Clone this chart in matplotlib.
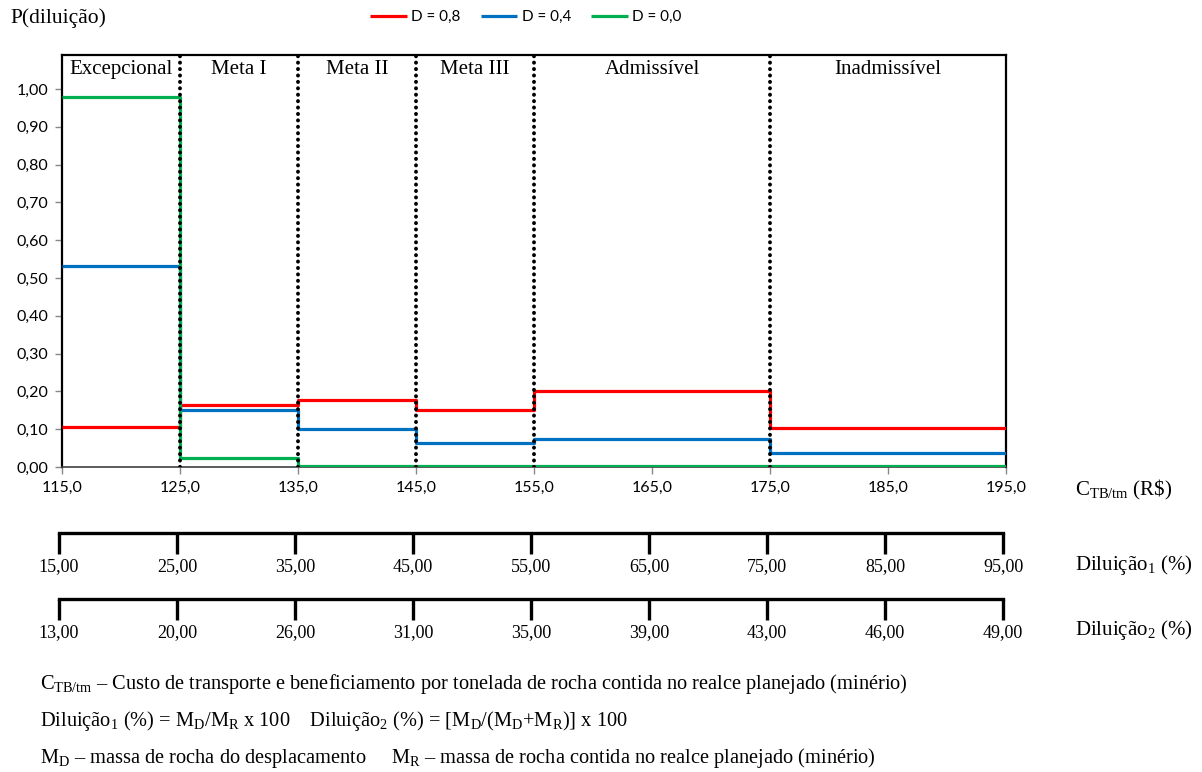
import matplotlib
matplotlib.use("Agg")
import matplotlib.pyplot as plt
import numpy as np

# ---- data ----
edges = [115, 125, 135, 145, 155, 175, 195]
d08 = [0.107, 0.164, 0.177, 0.151, 0.201, 0.103]
d04 = [0.532, 0.151, 0.100, 0.063, 0.074, 0.037]
d00 = [0.979, 0.024, 0.002, 0.002, 0.002, 0.002]
series_labels = ["D = 0,8", "D = 0,4", "D = 0,0"]
region_names = ["Excepcional", "Meta I", "Meta II", "Meta III", "Admissível", "Inadmissível"]
boundaries = [125, 135, 145, 155, 175]
cost_ticks = [115, 125, 135, 145, 155, 165, 175, 185, 195]
dil1_labels = ["15,00", "25,00", "35,00", "45,00", "55,00", "65,00", "75,00", "85,00", "95,00"]
dil2_labels = ["13,00", "20,00", "26,00", "31,00", "35,00", "39,00", "43,00", "46,00", "49,00"]
y_ticks = [0.0, 0.1, 0.2, 0.3, 0.4, 0.5, 0.6, 0.7, 0.8, 0.9, 1.0]

plt.rcParams['mathtext.fontset'] = 'custom'
plt.rcParams['mathtext.rm'] = 'Liberation Serif'
plt.rcParams['mathtext.it'] = 'Liberation Serif:italic'
SERIF = 'Liberation Serif'
SANS = 'Lato'

W, H = 1202, 772
fig = plt.figure(figsize=(W / 100, H / 100), dpi=100)

def fx(px):
    return px / W

def fy(py):
    return 1 - py / H

x0, x1 = 62, 1006
yt, yb = 55, 467
ax = fig.add_axes([fx(x0), fy(yb), fx(x1 - x0), (yb - yt) / H])
ax.set_xlim(115, 195)
ax.set_ylim(0, 1.09)

colors = ["#FF0000", "#0070C0", "#00B050"]
for vals, c, lab in zip([d08, d04, d00], colors, series_labels):
    ax.step(edges, vals + [vals[-1]], where='post', color=c, lw=2.3, label=lab,
            solid_capstyle='butt', zorder=3)

for b in boundaries:
    ax.axvline(b, color='black', lw=2.8, linestyle=(0, (0.05, 1.6)),
               dash_capstyle='round', zorder=4)

lefts = [edges[0]] + boundaries
rights = boundaries + [edges[-1]]
for l, r, name in zip(lefts, rights, region_names):
    ax.text((l + r) / 2, 1.078, name, ha='center', va='top', family=SERIF, fontsize=15)

ax.set_yticks(y_ticks)
ax.set_yticklabels([f"{v:.2f}".replace('.', ',') for v in y_ticks], family=SANS, fontsize=11.5)
ax.set_xticks(cost_ticks)
ax.set_xticklabels([f"{v:.1f}".replace('.', ',') for v in cost_ticks], family=SANS, fontsize=11.5)
ax.tick_params(axis='both', direction='out', length=5, width=1, color='#888888', pad=5)
for s in ['left', 'top', 'right']:
    ax.spines[s].set_color('black')
    ax.spines[s].set_linewidth(1.6)
ax.spines['bottom'].set_color('#404040')
ax.spines['bottom'].set_linewidth(1.2)

leg = fig.legend(loc='center', bbox_to_anchor=(fx(526), fy(17)), ncol=3, frameon=False,
                 prop={'family': SANS, 'size': 11}, handlelength=2.4, handletextpad=0.3,
                 columnspacing=1.3)

# secondary dilution scales
for ypx, labels in [(533, dil1_labels), (599, dil2_labels)]:
    a2 = fig.add_axes([fx(x0 - 3), fy(ypx), fx(x1 - x0), 0.0001])
    a2.set_xlim(115, 195)
    a2.set_ylim(0, 1)
    for s in ['left', 'right', 'bottom']:
        a2.spines[s].set_visible(False)
    a2.spines['top'].set_linewidth(2.4)
    a2.spines['top'].set_color('black')
    a2.set_yticks([])
    a2.set_xticks(cost_ticks)
    a2.set_xticklabels(labels, family=SERIF, fontsize=13)
    a2.tick_params(axis='x', direction='out', length=15, width=2.4, color='black', pad=3)
    a2.patch.set_visible(False)

fig.text(fx(10), fy(18), "P(diluição)", family=SERIF, fontsize=15.5, va='center', ha='left')
fig.text(fx(1075), fy(490), r"C$_{\mathrm{TB/tm}}$ (R\$)", family=SERIF, fontsize=15, va='center', ha='left')
fig.text(fx(1075), fy(565), r"Diluição$_{\mathrm{1}}$ (%)", family=SERIF, fontsize=15, va='center', ha='left')
fig.text(fx(1075), fy(630), r"Diluição$_{\mathrm{2}}$ (%)", family=SERIF, fontsize=15, va='center', ha='left')

fs = 14.7
fig.text(fx(40), fy(684), r"C$_{\mathrm{TB/tm}}$ – Custo de transporte e beneficiamento por tonelada de rocha contida no realce planejado (minério)",
         family=SERIF, fontsize=fs, va='center', ha='left')
fig.text(fx(40), fy(721), r"Diluição$_{\mathrm{1}}$ (%) = M$_{\mathrm{D}}$/M$_{\mathrm{R}}$ x 100    Diluição$_{\mathrm{2}}$ (%) = [M$_{\mathrm{D}}$/(M$_{\mathrm{D}}$+M$_{\mathrm{R}}$)] x 100",
         family=SERIF, fontsize=fs, va='center', ha='left')
fig.text(fx(40), fy(758), r"M$_{\mathrm{D}}$ – massa de rocha do desplacamento     M$_{\mathrm{R}}$ – massa de rocha contida no realce planejado (minério)",
         family=SERIF, fontsize=fs, va='center', ha='left')

fig.savefig("out.png", dpi=100)
